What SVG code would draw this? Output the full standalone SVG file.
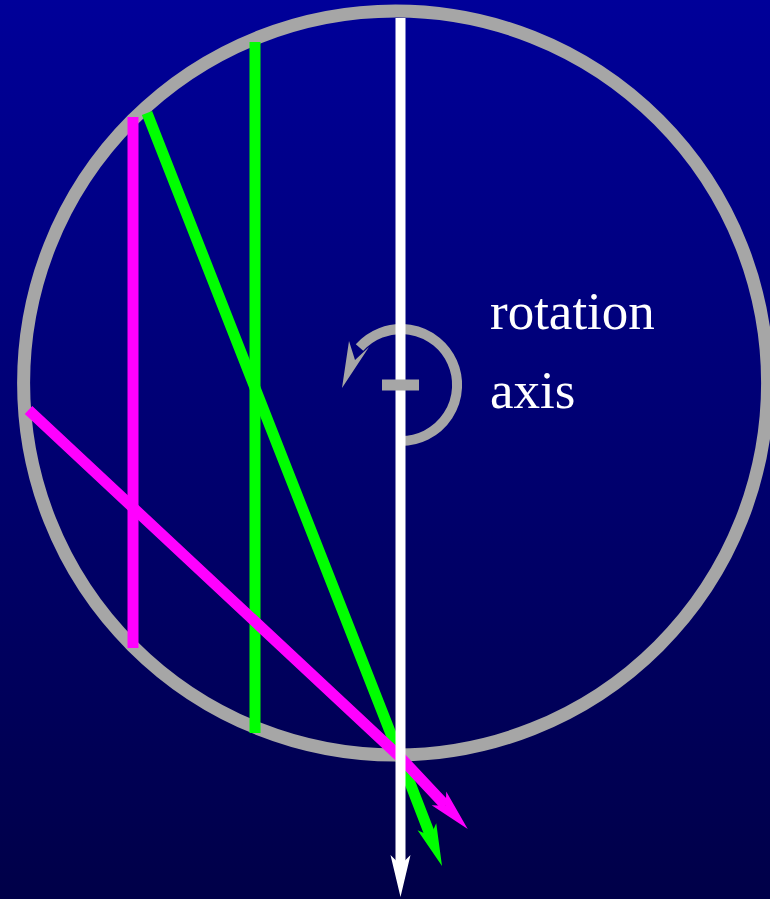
<svg xmlns="http://www.w3.org/2000/svg" width="770" height="899" viewBox="0 0 770 899">
<defs>
<linearGradient id="bg" x1="0" y1="0" x2="0" y2="1">
<stop offset="0" stop-color="#000099"/>
<stop offset="1" stop-color="#000048"/>
</linearGradient>
<marker id="ahW" markerUnits="userSpaceOnUse" orient="auto" refX="0" refY="0" overflow="visible" markerWidth="1" markerHeight="1">
<path d="M32,0 L-10,-10 L0,0 L-10,10 Z" fill="#ffffff"/>
</marker>
<marker id="ahG" markerUnits="userSpaceOnUse" orient="auto" refX="0" refY="0" overflow="visible" markerWidth="1" markerHeight="1">
<path d="M32,0 L-10,-10 L0,0 L-10,10 Z" fill="#00ff00"/>
</marker>
<marker id="ahM" markerUnits="userSpaceOnUse" orient="auto" refX="0" refY="0" overflow="visible" markerWidth="1" markerHeight="1">
<path d="M32,0 L-10,-10 L0,0 L-10,10 Z" fill="#ff00ff"/>
</marker>
</defs>
<style>
.gray{fill:none;stroke:#a6a6a6}
.green{fill:none;stroke:#00ff00;stroke-width:11}
.mag{fill:none;stroke:#ff00ff;stroke-width:11}
.white{fill:none;stroke:#ffffff;stroke-width:10}
.lbl{font-family:"Liberation Serif","Times New Roman",serif;font-size:53px;fill:#ffffff}
</style>
<rect x="0" y="0" width="770" height="899" fill="url(#bg)"/>
<g id="lens">
<circle cx="395.6" cy="383" r="372" class="gray" stroke-width="13"/>
</g>
<g id="connectors">
<line x1="255" y1="42" x2="255" y2="733" class="green"/>
<line x1="133" y1="117" x2="133" y2="648" class="mag"/>
<polyline points="147,113 400,757 430.5,836.1" class="green" marker-end="url(#ahG)"/>
<polyline points="28.5,410 400,757 445.8,805.7" class="mag" marker-end="url(#ahM)"/>
</g>
<g id="rotation">
<path d="M401,441 A56,56 0 1 0 359.5,347.5" class="gray" stroke-width="10"/>
<path d="M342,388 L349,341 L355,360 L369,347 Z" fill="#a6a6a6"/>
</g>
<g id="axis">
<line x1="400.5" y1="18" x2="400.5" y2="865" class="white" marker-end="url(#ahW)"/>
<rect x="382" y="379.5" width="37" height="11" fill="#a6a6a6"/>
</g>
<g id="label">
<text x="490" y="329" class="lbl">rotation</text>
<text x="490" y="408" class="lbl">axis</text>
</g>
</svg>
